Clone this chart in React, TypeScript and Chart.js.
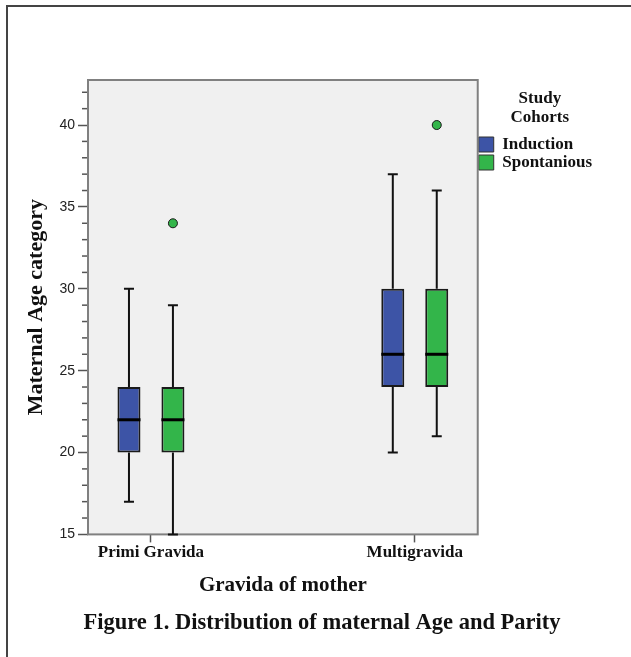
import React, { useEffect, useRef } from 'react';
import { Chart, registerables } from 'chart.js';

Chart.register(...registerables);

// ---- data ----
const categories = ['Primi Gravida', 'Multigravida'];
const seriesNames = ['Induction', 'Spontanious'];

const inductionMin = [17, 20];
const inductionQ1 = [20, 24];
const inductionMedian = [22, 26];
const inductionQ3 = [24, 30];
const inductionMax = [30, 37];
const inductionOutliers: number[][] = [[], []];

const spontaniousMin = [15, 21];
const spontaniousQ1 = [20, 24];
const spontaniousMedian = [22, 26];
const spontaniousQ3 = [24, 30];
const spontaniousMax = [29, 36];
const spontaniousOutliers: number[][] = [[34], [40]];

const yMajorTicks = [15, 20, 25, 30, 35, 40];
const yMinorTicks = [16, 17, 18, 19, 21, 22, 23, 24, 26, 27, 28, 29, 31, 32, 33, 34, 36, 37, 38, 39, 41, 42];

// ---- styling / layout ----
const SERIF = 'Liberation Serif';
const SANS = 'Liberation Sans';
const GROUP_OFFSET = 0.0833;

const series = [
  {
    name: seriesNames[0], color: '#3d54a6', offset: -GROUP_OFFSET,
    min: inductionMin, q1: inductionQ1, median: inductionMedian, q3: inductionQ3, max: inductionMax,
    outliers: inductionOutliers,
  },
  {
    name: seriesNames[1], color: '#33b54a', offset: GROUP_OFFSET,
    min: spontaniousMin, q1: spontaniousQ1, median: spontaniousMedian, q3: spontaniousQ3, max: spontaniousMax,
    outliers: spontaniousOutliers,
  },
];

const boxExtras = {
  id: 'boxExtras',
  beforeDatasetsDraw(chart: any) {
    const { ctx, chartArea: a, scales } = chart;
    const x = scales.x;
    const y = scales.y;
    ctx.save();
    ctx.fillStyle = '#f0f0f0';
    ctx.fillRect(a.left, a.top, a.right - a.left, a.bottom - a.top);
    ctx.strokeStyle = '#808080';
    ctx.lineWidth = 2;
    ctx.strokeRect(a.left, a.top, a.right - a.left, a.bottom - a.top);

    // minor ticks
    ctx.strokeStyle = '#555';
    ctx.lineWidth = 1.5;
    yMinorTicks.forEach((v) => {
      const py = y.getPixelForValue(v);
      ctx.beginPath();
      ctx.moveTo(a.left - 6, py);
      ctx.lineTo(a.left - 1, py);
      ctx.stroke();
    });

    // whiskers
    ctx.strokeStyle = '#111';
    ctx.lineWidth = 2;
    series.forEach((s) => {
      categories.forEach((_, i) => {
        const px = x.getPixelForValue(i + s.offset);
        const yMin = y.getPixelForValue(s.min[i]);
        const yQ1 = y.getPixelForValue(s.q1[i]);
        const yQ3 = y.getPixelForValue(s.q3[i]);
        const yMax = y.getPixelForValue(s.max[i]);
        ctx.beginPath();
        ctx.moveTo(px, yQ3);
        ctx.lineTo(px, yMax);
        ctx.moveTo(px, yQ1);
        ctx.lineTo(px, yMin);
        ctx.moveTo(px - 5, yMax);
        ctx.lineTo(px + 5, yMax);
        ctx.moveTo(px - 5, yMin);
        ctx.lineTo(px + 5, yMin);
        ctx.stroke();
      });
    });
    ctx.restore();
  },
  afterDatasetsDraw(chart: any) {
    const { ctx, scales } = chart;
    const y = scales.y;
    ctx.save();
    ctx.strokeStyle = '#000';
    ctx.lineWidth = 3;
    series.forEach((s, k) => {
      const meta = chart.getDatasetMeta(k);
      categories.forEach((_, i) => {
        const bar = meta.data[i];
        if (!bar) return;
        const py = y.getPixelForValue(s.median[i]);
        ctx.beginPath();
        ctx.moveTo(bar.x - bar.width / 2, py);
        ctx.lineTo(bar.x + bar.width / 2, py);
        ctx.stroke();
      });
    });
    ctx.restore();
  },
};

export default function App() {
  const ref = useRef<HTMLCanvasElement | null>(null);

  useEffect(() => {
    if (!ref.current) return;
    Chart.defaults.font.family = SERIF;

    const barSets = series.map((s) => ({
      type: 'bar',
      label: s.name,
      data: categories.map((_, i) => ({ x: i + s.offset, y: [s.q1[i], s.q3[i]] })),
      backgroundColor: s.color,
      borderColor: '#1a1a1a',
      borderWidth: 2,
      borderSkipped: false,
      grouped: false,
      maxBarThickness: 23,
    }));
    const outlierSets = series.map((s) => ({
      type: 'scatter',
      label: s.name + ' outliers',
      data: s.outliers.flatMap((vals, i) => vals.map((v) => ({ x: i + s.offset, y: v }))),
      backgroundColor: s.color,
      borderColor: '#1a1a1a',
      borderWidth: 1,
      pointRadius: 4.5,
    }));

    const chart = new Chart(ref.current, {
      type: 'bar',
      data: { datasets: [...barSets, ...outlierSets] as any },
      plugins: [boxExtras],
      options: {
        animation: false,
        responsive: false,
        events: [],
        layout: { padding: { top: 80, left: 42, right: 29, bottom: 0 } },
        scales: {
          x: {
            type: 'linear',
            min: -0.2386,
            max: 1.2386,
            bounds: 'data',
            offset: false,
            afterBuildTicks: (s: any) => {
              s.ticks = categories.map((_, i) => ({ value: i }));
            },
            afterFit: (s: any) => {
              s.height = 64;
            },
            ticks: {
              callback: (v: any) => categories[v] ?? '',
              font: { family: SERIF, size: 17, weight: 'bold' },
              color: '#111',
              padding: 0,
              autoSkip: false,
              maxRotation: 0,
            },
            grid: { offset: false, drawOnChartArea: false, tickLength: 8, tickColor: '#555', tickWidth: 1.5 },
            border: { display: false },
            title: {
              display: true,
              text: 'Gravida of mother',
              font: { family: SERIF, size: 21, weight: 'bold' },
              color: '#111',
              padding: 0,
            },
          },
          y: {
            type: 'linear',
            min: 15,
            max: 42.75,
            bounds: 'data',
            afterBuildTicks: (s: any) => {
              s.ticks = yMajorTicks.map((v) => ({ value: v }));
            },
            afterFit: (s: any) => {
              s.width = 46;
            },
            ticks: {
              font: { family: SANS, size: 14 },
              color: '#222',
              padding: 3,
            },
            grid: { drawOnChartArea: false, tickLength: 10, tickColor: '#555', tickWidth: 1.5 },
            border: { display: false },
            title: {
              display: true,
              text: 'Maternal Age category',
              font: { family: SERIF, size: 22, weight: 'bold' },
              color: '#111',
              padding: { top: -18.7, bottom: 0 },
            },
          },
        },
        plugins: {
          tooltip: { enabled: false },
          legend: {
            position: 'right',
            align: 'start',
            title: {
              display: true,
              text: ['Study', 'Cohorts'] as any,
              font: { family: SERIF, size: 17, weight: 'bold', lineHeight: 19 / 17 },
              color: '#111',
              padding: { top: 10, bottom: 26 },
            },
            labels: {
              boxWidth: 15,
              boxHeight: 15,
              padding: 1,
              font: { family: SERIF, size: 17, weight: 'bold' },
              color: '#111',
              generateLabels: (c: any) =>
                Chart.defaults.plugins.legend.labels
                  .generateLabels(c)
                  .filter((l: any) => l.datasetIndex < series.length)
                  .map((l: any) => ({ ...l, lineWidth: 1, strokeStyle: '#333' })),
            },
          },
          title: {
            display: true,
            position: 'bottom',
            text: 'Figure 1. Distribution of maternal Age and Parity',
            font: { family: SERIF, size: 22.5, weight: 'bold' },
            color: '#111',
            padding: { top: 11, bottom: 20.6 },
          },
        },
      } as any,
    });
    return () => chart.destroy();
  }, []);

  return (
    <div style={{ position: 'fixed', left: 0, top: 0, width: 631, height: 657, background: '#fff', overflow: 'hidden' }}>
      <div
        style={{
          position: 'absolute', left: 6, top: 5, width: 800, height: 800,
          borderLeft: '2px solid #444', borderTop: '2px solid #444',
        }}
      />
      <canvas ref={ref} width={631} height={657} style={{ position: 'absolute', left: 0, top: 0, width: 631, height: 657 }} />
    </div>
  );
}
